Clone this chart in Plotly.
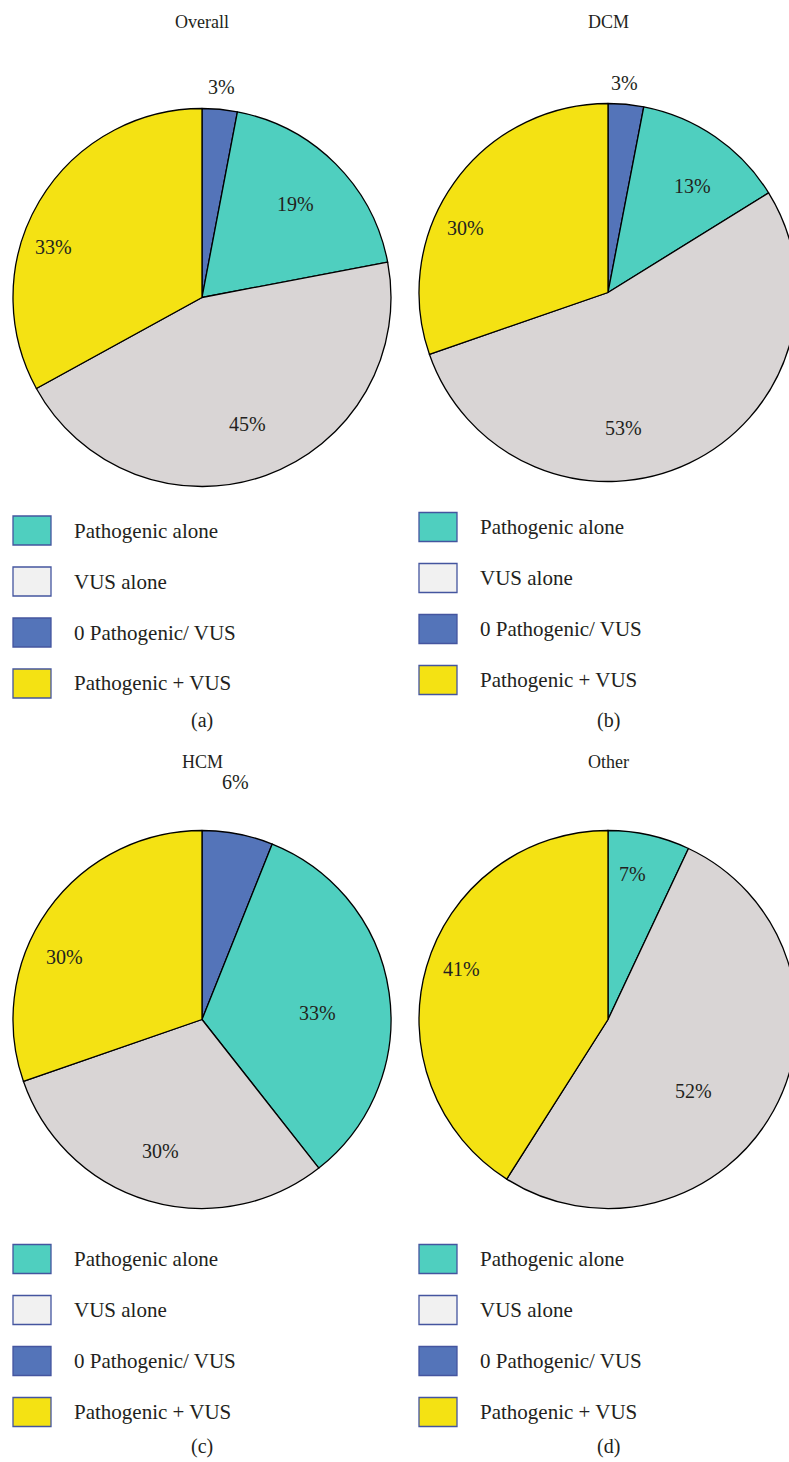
import math
import plotly.graph_objects as go

# ---- data -------------------------------------------------------------
CATEGORIES = ["0 Pathogenic/ VUS", "Pathogenic alone", "VUS alone", "Pathogenic + VUS"]
LEGEND_ITEMS = ["Pathogenic alone", "VUS alone", "0 Pathogenic/ VUS", "Pathogenic + VUS"]
PANEL_TITLES = ["Overall", "DCM", "HCM", "Other"]
PANEL_TAGS = ["(a)", "(b)", "(c)", "(d)"]

OVERALL = [3, 19, 45, 33]
DCM = [3, 13, 53, 30]
HCM = [6, 33, 30, 30]
OTHER = [0, 7, 52, 41]
PANEL_VALUES = [OVERALL, DCM, HCM, OTHER]

# ---- styling ----------------------------------------------------------
W, H = 800, 1462
FONT = "Liberation Serif"
INK = "#231f20"
SLICE_COLORS = {
    "0 Pathogenic/ VUS": "#5474b9",
    "Pathogenic alone": "#4fcfbf",
    "VUS alone": "#d9d5d5",
    "Pathogenic + VUS": "#f4e213",
}
SWATCH_COLORS = {
    "0 Pathogenic/ VUS": "#5474b9",
    "Pathogenic alone": "#4fcfbf",
    "VUS alone": "#f1f1f1",
    "Pathogenic + VUS": "#f4e213",
}
SWATCH_BORDER = "#44559f"

# panel geometry in pixels: pie centre, radius, title / legend / tag rows
RADIUS = 189
PANELS = [
    dict(cx=202, cy=297.5, title_y=22, legend_y0=530.5, tag_y=720, box_x=13, text_x=72),
    dict(cx=608, cy=292.5, title_y=22, legend_y0=527, tag_y=720, box_x=419, text_x=478),
    dict(cx=202, cy=1019.5, title_y=762, legend_y0=1259, tag_y=1446, box_x=13, text_x=72),
    dict(cx=608, cy=1019.5, title_y=762, legend_y0=1259, tag_y=1446, box_x=419, text_x=478),
]
LEGEND_STEP = 51
BOX_W, BOX_H = 38, 29

# percentage label placement: (fraction of radius, angular nudge in degrees)
LABEL_PLACEMENT = [
    [(1.12, 0), (0.70, 0), (0.71, 0), (0.83, -12)],
    [(1.11, -1), (0.72, 4), (0.72, 19), (0.83, -11)],
    [(1.27, -3), (0.61, 5), (0.73, 1), (0.80, -11)],
    [(1.0, 0), (0.78, -3), (0.59, 11), (0.82, 3)],
]


def px_x(x):
    return x / W


def px_y(y):
    return 1 - y / H


fig = go.Figure()
annotations = []
shapes = []

for values, title, tag, geo, placement in zip(
    PANEL_VALUES, PANEL_TITLES, PANEL_TAGS, PANELS, LABEL_PLACEMENT
):
    cx, cy = geo["cx"], geo["cy"]
    fig.add_trace(
        go.Pie(
            labels=CATEGORIES,
            values=values,
            sort=False,
            direction="clockwise",
            rotation=0,
            textinfo="none",
            hoverinfo="skip",
            showlegend=False,
            marker=dict(
                colors=[SLICE_COLORS[c] for c in CATEGORIES],
                line=dict(color="#000000", width=1.3),
            ),
            domain=dict(
                x=[px_x(cx - RADIUS), px_x(cx + RADIUS)],
                y=[px_y(cy + RADIUS), px_y(cy - RADIUS)],
            ),
        )
    )

    # percentage labels, placed along each slice's mid-angle
    total = sum(values)
    start = 0.0
    for v, (rf, nudge) in zip(values, placement):
        span = v / total * 360
        if v > 0:
            theta = math.radians(start + span / 2 + nudge)
            x = cx + rf * RADIUS * math.sin(theta)
            y = cy - rf * RADIUS * math.cos(theta)
            annotations.append(
                dict(
                    x=px_x(x), y=px_y(y), xref="paper", yref="paper",
                    text=f"{v}%", showarrow=False,
                    xanchor="center", yanchor="middle",
                    font=dict(family=FONT, size=20, color=INK),
                )
            )
        start += span

    # panel title and sub-figure tag
    annotations.append(
        dict(
            x=px_x(cx), y=px_y(geo["title_y"]), xref="paper", yref="paper",
            text=title, showarrow=False, xanchor="center", yanchor="middle",
            font=dict(family=FONT, size=18, color=INK),
        )
    )
    annotations.append(
        dict(
            x=px_x(cx), y=px_y(geo["tag_y"]), xref="paper", yref="paper",
            text=tag, showarrow=False, xanchor="center", yanchor="middle",
            font=dict(family=FONT, size=20, color=INK),
        )
    )

    # legend block under each pie
    for i, item in enumerate(LEGEND_ITEMS):
        yc = geo["legend_y0"] + i * LEGEND_STEP
        shapes.append(
            dict(
                type="rect", xref="paper", yref="paper",
                x0=px_x(geo["box_x"]), x1=px_x(geo["box_x"] + BOX_W),
                y0=px_y(yc + BOX_H / 2), y1=px_y(yc - BOX_H / 2),
                fillcolor=SWATCH_COLORS[item],
                line=dict(color=SWATCH_BORDER, width=1.3),
            )
        )
        annotations.append(
            dict(
                x=px_x(geo["text_x"]), y=px_y(yc), xref="paper", yref="paper",
                text=item, showarrow=False, xanchor="left", yanchor="middle",
                font=dict(family=FONT, size=21, color=INK),
            )
        )

fig.update_layout(
    width=W,
    height=H,
    margin=dict(l=0, r=0, t=0, b=0),
    paper_bgcolor="white",
    plot_bgcolor="white",
    annotations=annotations,
    shapes=shapes,
    font=dict(family=FONT, color=INK),
)

fig.write_html(
    "out.html",
    config={"displayModeBar": False},
    post_script=(
        "document.documentElement.style.overflow='hidden';"
        "document.body.style.overflow='hidden';"
        "document.body.style.margin='0';"
    ),
)
